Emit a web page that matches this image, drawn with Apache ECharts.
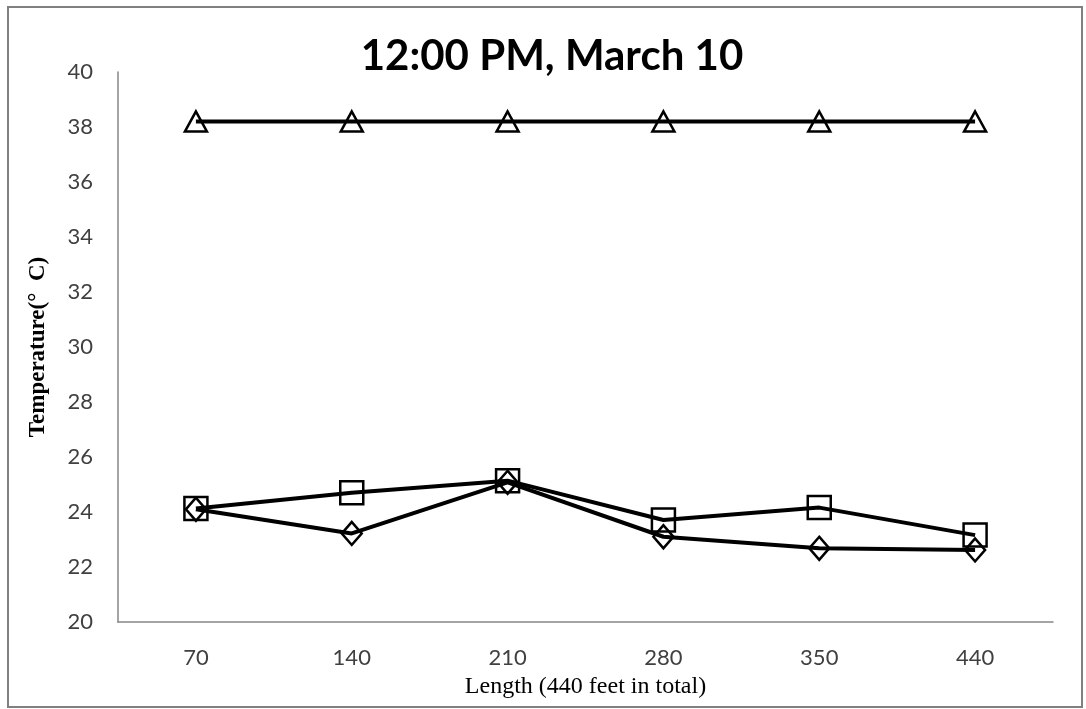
<!DOCTYPE html>
<html>
<head>
<meta charset="utf-8">
<script src="https://cdn.jsdelivr.net/npm/echarts@6/dist/echarts.min.js"></script>
<style>
  html, body { margin: 0; padding: 0; background: #fff; }
  #chart { width: 1086px; height: 709px; }
</style>
</head>
<body>
<div id="chart"></div>
<script>
// Sampling points along the run (feet)
const lengths = ['70', '140', '210', '280', '350', '440'];
// Temperatures (°C) at each point
const triangleSeries = [38.2, 38.2, 38.2, 38.2, 38.2, 38.2];
const squareSeries = [24.13, 24.70, 25.14, 23.71, 24.16, 23.16];
const diamondSeries = [24.10, 23.22, 25.08, 23.10, 22.68, 22.62];
// Y axis range
const yMin = 20, yMax = 40, yStep = 2;

const chart = echarts.init(document.getElementById('chart'), null, { renderer: 'canvas' });

function lineSeries(name, data, symbol, size) {
  return {
    name: name,
    type: 'line',
    data: data,
    symbol: symbol,
    symbolSize: size,
    showAllSymbol: true,
    lineStyle: { color: '#000', width: 4 },
    itemStyle: { color: 'rgba(255,255,255,0)', borderColor: '#000', borderWidth: 2.5 },
    emphasis: { disabled: true },
    animation: false
  };
}

chart.setOption({
  animation: false,
  graphic: [{
    type: 'rect',
    shape: { x: 8, y: 7, width: 1074, height: 700 },
    style: { fill: 'none', stroke: '#808080', lineWidth: 2 },
    silent: true
  }],
  title: {
    text: '12:00 PM, March 10',
    left: 547,
    top: 30,
    textAlign: 'center',
    textStyle: { fontFamily: 'Lato, "Open Sans", sans-serif', fontWeight: 'bold', fontSize: 42, color: '#000' }
  },
  grid: { left: 118, right: 33, top: 72, bottom: 87, containLabel: false },
  xAxis: {
    type: 'category',
    data: lengths,
    boundaryGap: true,
    name: 'Length (440 feet in total)',
    nameLocation: 'middle',
    nameGap: 53,
    nameTextStyle: { fontFamily: '"Liberation Serif", "DejaVu Serif", serif', fontSize: 24, color: '#000' },
    axisLine: { lineStyle: { color: '#868686', width: 1.5 } },
    axisTick: { show: false },
    axisLabel: { margin: 25, fontFamily: 'Lato, "Open Sans", sans-serif', fontSize: 22, color: '#404040' },
    splitLine: { show: false }
  },
  yAxis: {
    type: 'value',
    min: yMin,
    max: yMax,
    interval: yStep,
    name: 'Temperature(°  C)',
    nameLocation: 'middle',
    nameGap: 68,
    nameTextStyle: { fontFamily: '"Liberation Serif", "DejaVu Serif", serif', fontWeight: 'bold', fontSize: 23, color: '#000' },
    axisLine: { show: true, lineStyle: { color: '#868686', width: 1.5 } },
    axisTick: { show: false },
    axisLabel: { margin: 25, fontFamily: 'Lato, "Open Sans", sans-serif', fontSize: 22, color: '#404040' },
    splitLine: { show: false }
  },
  series: [
    lineSeries('Triangle', triangleSeries, 'triangle', [22, 20]),
    lineSeries('Square', squareSeries, 'rect', 23),
    lineSeries('Diamond', diamondSeries, 'diamond', [20, 23])
  ]
});
</script>
</body>
</html>
